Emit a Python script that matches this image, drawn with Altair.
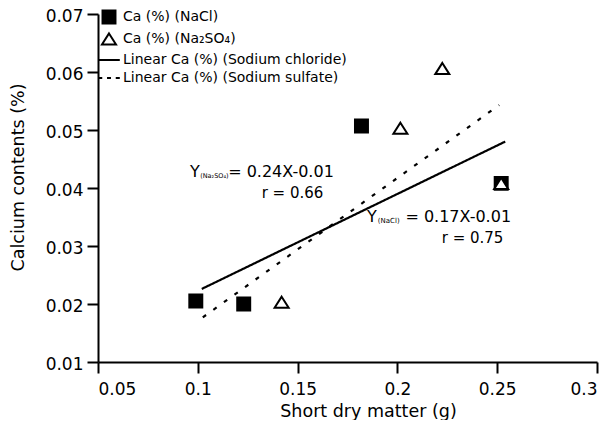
import altair as alt
import pandas as pd

# ---- data ----
series_names = ["Ca (%) (NaCl)", "Ca (%) (Na₂SO₄)",
                "Linear Ca (%) (Sodium chloride)", "Linear Ca (%) (Sodium sulfate)"]

nacl_x = [0.099, 0.123, 0.182, 0.252]
nacl_y = [0.0205, 0.0200, 0.0507, 0.0408]
na2so4_x = [0.142, 0.2015, 0.2225, 0.252]
na2so4_y = [0.0203, 0.0503, 0.0606, 0.0408]

fit_nacl_x = [0.102, 0.254]
fit_nacl_y = [0.0226, 0.0480]
fit_na2so4_x = [0.1025, 0.251]
fit_na2so4_y = [0.0177, 0.0543]

x_ticks = [0.05, 0.1, 0.15, 0.2, 0.25, 0.3]
y_ticks = [0.01, 0.02, 0.03, 0.04, 0.05, 0.06, 0.07]

ann_text = ["Y", "(Na₂SO₄)", "= 0.24X-0.01", "r = 0.66",
            "Y", "(NaCl)", "= 0.17X-0.01", "r = 0.75"]
ann_x = [0.0961, 0.1012, 0.1152, 0.1320, 0.1848, 0.1902, 0.2040, 0.2222]
ann_y = [0.0428, 0.0421, 0.0428, 0.0391, 0.03505, 0.0343, 0.03505, 0.0313]
ann_size = [16, 6.5, 16, 15, 16, 7, 16, 15]

FONT = "DejaVu Sans"

points = pd.DataFrame({
    "x": nacl_x + na2so4_x,
    "y": nacl_y + na2so4_y,
    "series": [series_names[0]] * len(nacl_x) + [series_names[1]] * len(na2so4_x),
})
lines = pd.DataFrame({
    "x": fit_nacl_x + fit_na2so4_x,
    "y": fit_nacl_y + fit_na2so4_y,
    "series": [series_names[2]] * 2 + [series_names[3]] * 2,
})
ann = pd.DataFrame({"x": ann_x, "y": ann_y, "text": ann_text, "fs": ann_size})

xscale = alt.Scale(domain=[0.05, 0.3], nice=False, zero=False)
yscale = alt.Scale(domain=[0.01, 0.07], nice=False, zero=False)

xenc = alt.X("x:Q", scale=xscale, axis=alt.Axis(
    values=x_ticks, format="~g", title="Short dry matter (g)", labelPadding=8,
    titleX=270, titleY=54, titleBaseline="alphabetic", titleAlign="center"))
yenc = alt.Y("y:Q", scale=yscale, axis=alt.Axis(
    values=y_ticks, format=".2f", title="Calcium contents (%)", labelOffset=2,
    titleX=-80, titleY=163, titleBaseline="middle", titleAlign="center", titleAngle=-90))

sq = "M-0.72,-0.72H0.72V0.72H-0.72Z"
tri = "M0,-0.62L0.78,0.62L-0.78,0.62Z"
solid = "M-1.2,0H1.2"
dashed = "M-1.2,0H-0.75M-0.22,0H0.22M0.75,0H1.2"

legend = alt.Legend(title=None, orient="none", legendX=1, legendY=-7,
                    symbolSize=324, symbolStrokeColor="black", symbolStrokeWidth=2,
                    labelFont=FONT, labelFontSize=14, labelColor="black",
                    labelLimit=0, labelOffset=4, rowPadding=1, padding=0)

pts = alt.Chart(points).mark_point(filled=True, size=324, strokeWidth=2, opacity=1).encode(
    x=xenc, y=yenc,
    shape=alt.Shape("series:N", scale=alt.Scale(domain=series_names,
                                                 range=[sq, tri, solid, dashed]), legend=legend),
    fill=alt.Fill("series:N", scale=alt.Scale(domain=series_names,
                                               range=["black", "white", "black", "black"]), legend=legend),
    stroke=alt.Stroke("series:N", scale=alt.Scale(domain=series_names,
                                                   range=["black", "black", "black", "black"]), legend=legend),
    order=alt.Order("series:N"),
)

fit = alt.Chart(lines).mark_line(color="black", strokeWidth=2.2).encode(
    x="x:Q", y="y:Q",
    strokeDash=alt.StrokeDash("series:N", scale=alt.Scale(
        domain=series_names[2:], range=[[1, 0], [4, 9]]), legend=None),
    detail="series:N",
)

txt = alt.Chart(ann).mark_text(align="left", baseline="middle", font=FONT,
                               color="black").encode(
    x="x:Q", y="y:Q", text="text:N", size=alt.Size("fs:Q", scale=None))

chart = alt.layer(fit, pts, txt).properties(
    width=499, height=348,
    autosize=alt.AutoSizeParams(type="none"),
    padding={"left": 90, "top": 6, "right": 6, "bottom": 58},
).configure_view(stroke=None).configure_axis(
    grid=False, domainColor="black", domainWidth=2, tickColor="black",
    tickWidth=2, tickSize=11, labelFont=FONT, labelFontSize=17, labelColor="black",
    labelPadding=3, titleFont=FONT, titleFontSize=17.5, titleFontWeight="normal",
    titleColor="black",
).configure_axisY(labelPadding=4)

chart.save("out.html", embed_options={"renderer": "svg", "actions": False})
